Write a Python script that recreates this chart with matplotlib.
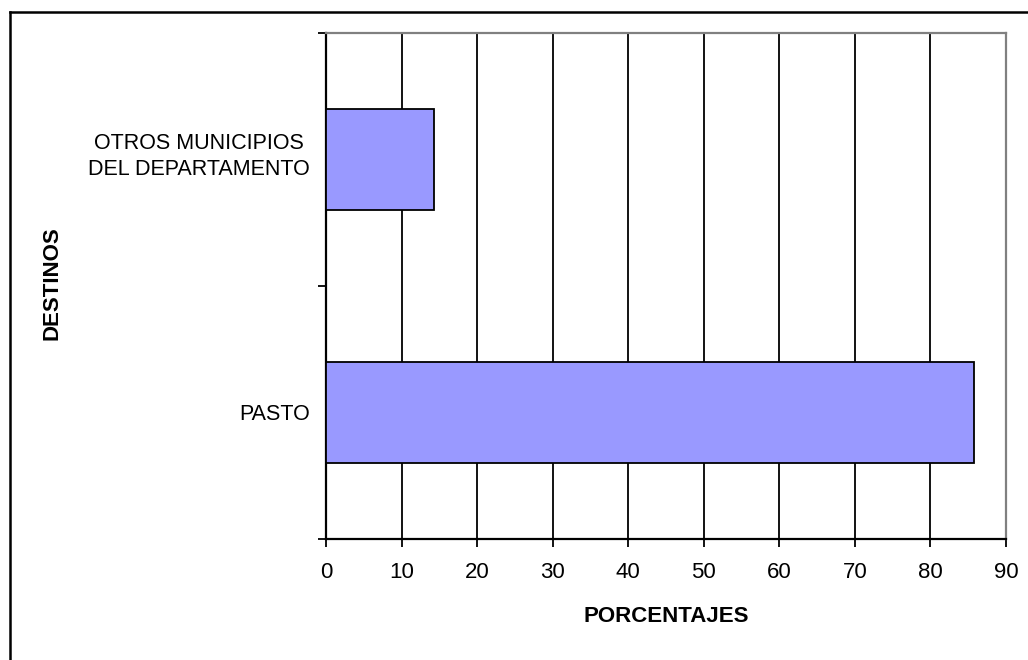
import matplotlib
matplotlib.use("Agg")
import matplotlib.pyplot as plt
from matplotlib.lines import Line2D
from matplotlib.transforms import offset_copy

plt.rcParams['font.family'] = ['Liberation Sans', 'DejaVu Sans']

categories = ["PASTO", "OTROS MUNICIPIOS\nDEL DEPARTAMENTO"]
values = [85.7, 14.3]
x_ticks = [0, 10, 20, 30, 40, 50, 60, 70, 80, 90]

W, H = 1028, 660
fig = plt.figure(figsize=(W / 100, H / 100), dpi=100)
ax = fig.add_axes([326 / W, 1 - 538.7 / H, (1006 - 326) / W, (538.7 - 33) / H])

# vertical gridlines behind the bars
for xv in x_ticks[1:-1]:
    ax.axvline(xv, color="black", lw=1.3, zorder=1)

ypos = list(range(len(categories)))
ax.barh(ypos, values, height=0.4, color="#9999FF", edgecolor="black",
        linewidth=1.3, zorder=3)

ax.set_xlim(0, 90)
ax.set_ylim(-0.5, 1.5)
ax.set_xticks(x_ticks)
ax.set_xticklabels([str(v) for v in x_ticks], fontsize=16)
ax.tick_params(axis="x", direction="out", length=6, width=1.3, pad=11)

# category boundaries get ticks, category names sit between them
ax.set_yticks([-0.5, 0.5, 1.5])
ax.set_yticklabels([])
ax.tick_params(axis="y", which="major", direction="out", length=6, width=1.3)

label_tf = ax.get_yaxis_transform()
label_offsets = [-1.5, 2.0]  # points upward, two-line label sits a bit high
for y, name, dy in zip(ypos, categories, label_offsets):
    tf = offset_copy(label_tf, fig=fig, x=-11.5, y=dy, units="points")
    ax.text(0, y, name, transform=tf, fontsize=15.5, ha="right", va="center",
            multialignment="center", linespacing=1.35)

for side in ("left", "bottom"):
    ax.spines[side].set_color("black")
    ax.spines[side].set_linewidth(1.6)
for side in ("top", "right"):
    ax.spines[side].set_color("#808080")
    ax.spines[side].set_linewidth(1.6)

fig.text(666 / W, 1 - 617 / H, "PORCENTAJES", fontsize=16, fontweight="bold",
         ha="center", va="center")
fig.text(52 / W, 1 - 283 / H, "DESTINOS", fontsize=16, fontweight="bold",
         rotation=90, ha="center", va="center")

# outer chart frame (top and left edges)
fig.add_artist(Line2D([9.5 / W, 9.5 / W], [0, 1 - 11.5 / H], transform=fig.transFigure,
                      color="black", lw=1.8))
fig.add_artist(Line2D([9.5 / W, 1], [1 - 11.5 / H, 1 - 11.5 / H], transform=fig.transFigure,
                      color="black", lw=1.8))

fig.savefig("out.png", dpi=100)
